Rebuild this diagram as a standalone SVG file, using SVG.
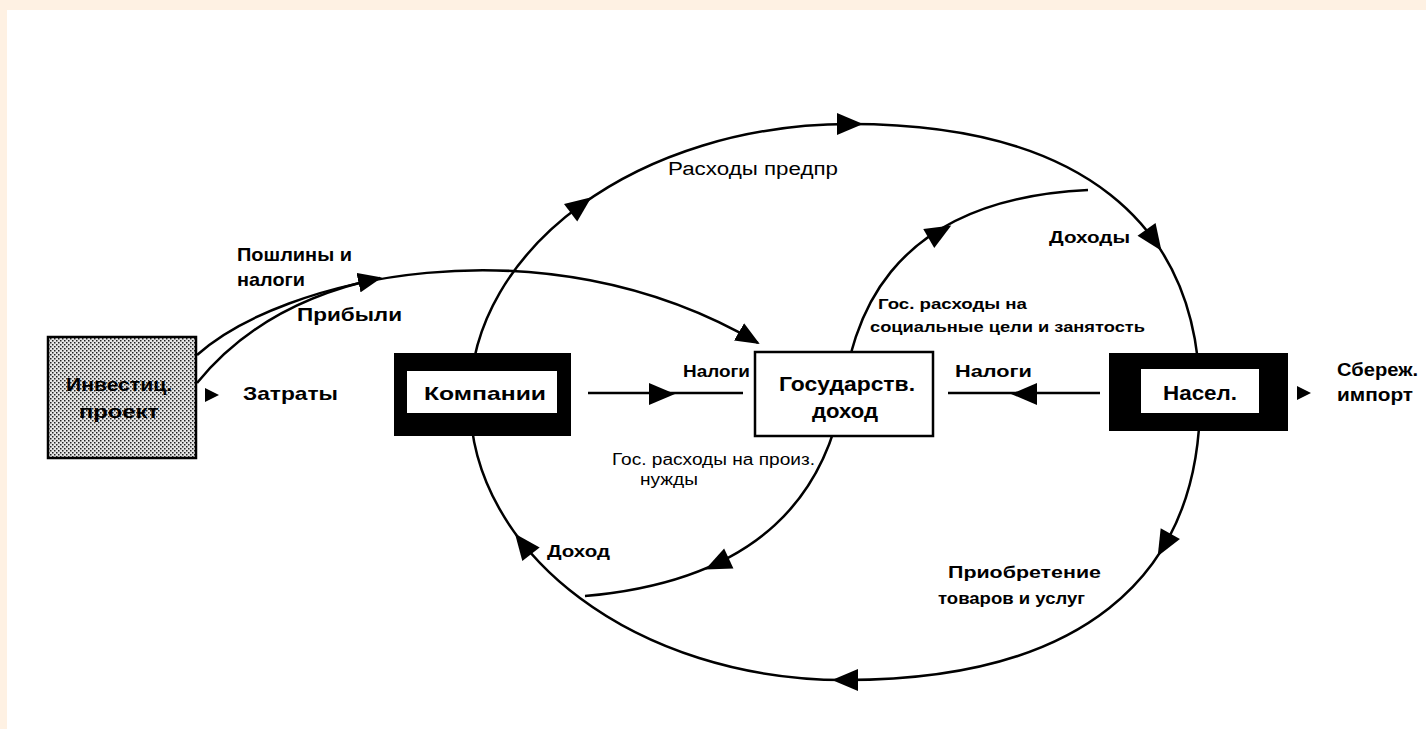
<svg xmlns="http://www.w3.org/2000/svg" width="1426" height="729" viewBox="0 0 1426 729">
<style>
.ln{fill:none;stroke:#000;stroke-width:2.5}
.t{font-family:"Liberation Sans",Arial,sans-serif;fill:#000}
.b{font-weight:bold}
.ah{fill:#000}
</style>
<defs>
<pattern id="stip" width="4" height="4" patternUnits="userSpaceOnUse">
<rect width="4" height="4" fill="#e6e6e6"/>
<rect x="0" y="0" width="1.5" height="1.5" fill="#222"/>
<rect x="2" y="2" width="1.5" height="1.5" fill="#222"/>
</pattern>
<path id="ah" d="M -13,-11 L 13,0 L -13,11 Z"/>
<path id="ahs" d="M -7,-7 L 7,0 L -7,7 Z"/>
<marker id="mEnd" markerWidth="24" markerHeight="20" refX="22" refY="10" orient="auto" markerUnits="userSpaceOnUse">
<path d="M 0,0 L 24,10 L 0,20 Z" fill="#000"/>
</marker>
</defs>
<rect width="1426" height="729" fill="#fef1e3"/>
<rect x="7" y="10" width="1419" height="719" fill="#fff"/>

<g id="connectors">
<path class="ln" d="M 850,124 C 1077.5,124 1200,220.6 1200,400 C 1200,582 1075.75,680 845,680 C 638,680 470,554.6 470,400 C 470,247.6 640.2,124 850,124 Z"/>
<path class="ln" d="M 1088,190 C 880,200 852,330 843,395 C 825,490 765,580 585,596"/>
<path class="ln" d="M 197,355 C 280,280 540,215 758,343" marker-end="url(#mEnd)"/>
<path class="ln" d="M 197,383 C 240,330 300,295 380,278" marker-end="url(#mEnd)"/>
<line class="ln" x1="588" y1="393" x2="743" y2="393"/>
<line class="ln" x1="948" y1="393" x2="1100" y2="393"/>
<g class="ah">
<use href="#ah" transform="translate(850,124) rotate(0)"/>
<use href="#ah" transform="translate(581,205) rotate(-37)"/>
<use href="#ah" transform="translate(1154,240) rotate(55)"/>
<use href="#ah" transform="translate(1164,545) rotate(119)"/>
<use href="#ah" transform="translate(845,680) rotate(180)"/>
<use href="#ah" transform="translate(523,544) rotate(-128)"/>
<use href="#ah" transform="translate(940,232) rotate(-30)"/>
<use href="#ah" transform="translate(717,564) rotate(155)"/>
<use href="#ah" transform="translate(662,394) rotate(0)"/>
<use href="#ah" transform="translate(1024,394) rotate(180)"/>
<use href="#ahs" transform="translate(212,395)"/>
<use href="#ahs" transform="translate(1304,393)"/>
</g>
</g>

<g id="invest">
<rect x="48" y="337" width="148" height="121" fill="url(#stip)" stroke="#000" stroke-width="2.5"/>
<text class="t b" x="119" y="391" font-size="19" text-anchor="middle" textLength="106" lengthAdjust="spacingAndGlyphs">Инвестиц.</text>
<text class="t b" x="119" y="418" font-size="19" text-anchor="middle" textLength="80" lengthAdjust="spacingAndGlyphs">проект</text>
</g>

<g id="companies">
<rect x="394" y="353" width="177" height="83" fill="#000"/>
<rect x="407" y="371" width="150" height="42" fill="#fff"/>
<text class="t b" x="485" y="400" font-size="19" text-anchor="middle" textLength="122" lengthAdjust="spacingAndGlyphs">Компании</text>
</g>

<g id="gov">
<rect x="755" y="352" width="178" height="84" fill="#fff" stroke="#000" stroke-width="2.5"/>
<text class="t b" x="847" y="391" font-size="20" text-anchor="middle" textLength="136" lengthAdjust="spacingAndGlyphs">Государств.</text>
<text class="t b" x="845" y="418" font-size="20" text-anchor="middle" textLength="66" lengthAdjust="spacingAndGlyphs">доход</text>
</g>

<g id="population">
<rect x="1109" y="353" width="179" height="78" fill="#000"/>
<rect x="1141" y="369" width="118" height="44" fill="#fff"/>
<text class="t b" x="1200" y="400" font-size="20" text-anchor="middle" textLength="74" lengthAdjust="spacingAndGlyphs">Насел.</text>
</g>

<g id="labels">
<text class="t b" x="237" y="261" font-size="19" textLength="115" lengthAdjust="spacingAndGlyphs">Пошлины и</text>
<text class="t b" x="237" y="286" font-size="19" textLength="68" lengthAdjust="spacingAndGlyphs">налоги</text>
<text class="t b" x="297" y="321" font-size="19" textLength="105" lengthAdjust="spacingAndGlyphs">Прибыли</text>
<text class="t b" x="243" y="400" font-size="19" textLength="95" lengthAdjust="spacingAndGlyphs">Затраты</text>
<text class="t b" x="683" y="377" font-size="17" textLength="67" lengthAdjust="spacingAndGlyphs">Налоги</text>
<text class="t b" x="955" y="377" font-size="17" textLength="77" lengthAdjust="spacingAndGlyphs">Налоги</text>
<text class="t b" x="1337" y="376" font-size="19" textLength="81" lengthAdjust="spacingAndGlyphs">Сбереж.</text>
<text class="t b" x="1337" y="401" font-size="19" textLength="76" lengthAdjust="spacingAndGlyphs">импорт</text>
<text class="t" x="668" y="175" font-size="18" textLength="170" lengthAdjust="spacingAndGlyphs">Расходы предпр</text>
<text class="t b" x="1049" y="243" font-size="17" textLength="81" lengthAdjust="spacingAndGlyphs">Доходы</text>
<text class="t b" x="878" y="309" font-size="15" textLength="149" lengthAdjust="spacingAndGlyphs">Гос. расходы на</text>
<text class="t b" x="870" y="332" font-size="15" textLength="275" lengthAdjust="spacingAndGlyphs">социальные цели и занятость</text>
<text class="t" x="612" y="465" font-size="16" textLength="203" lengthAdjust="spacingAndGlyphs">Гос. расходы на произ.</text>
<text class="t" x="640" y="485" font-size="16" textLength="58" lengthAdjust="spacingAndGlyphs">нужды</text>
<text class="t b" x="547" y="557" font-size="17" textLength="63" lengthAdjust="spacingAndGlyphs">Доход</text>
<text class="t b" x="948" y="578" font-size="17" textLength="153" lengthAdjust="spacingAndGlyphs">Приобретение</text>
<text class="t b" x="938" y="604" font-size="17" textLength="147" lengthAdjust="spacingAndGlyphs">товаров и услуг</text>
</g>
</svg>
